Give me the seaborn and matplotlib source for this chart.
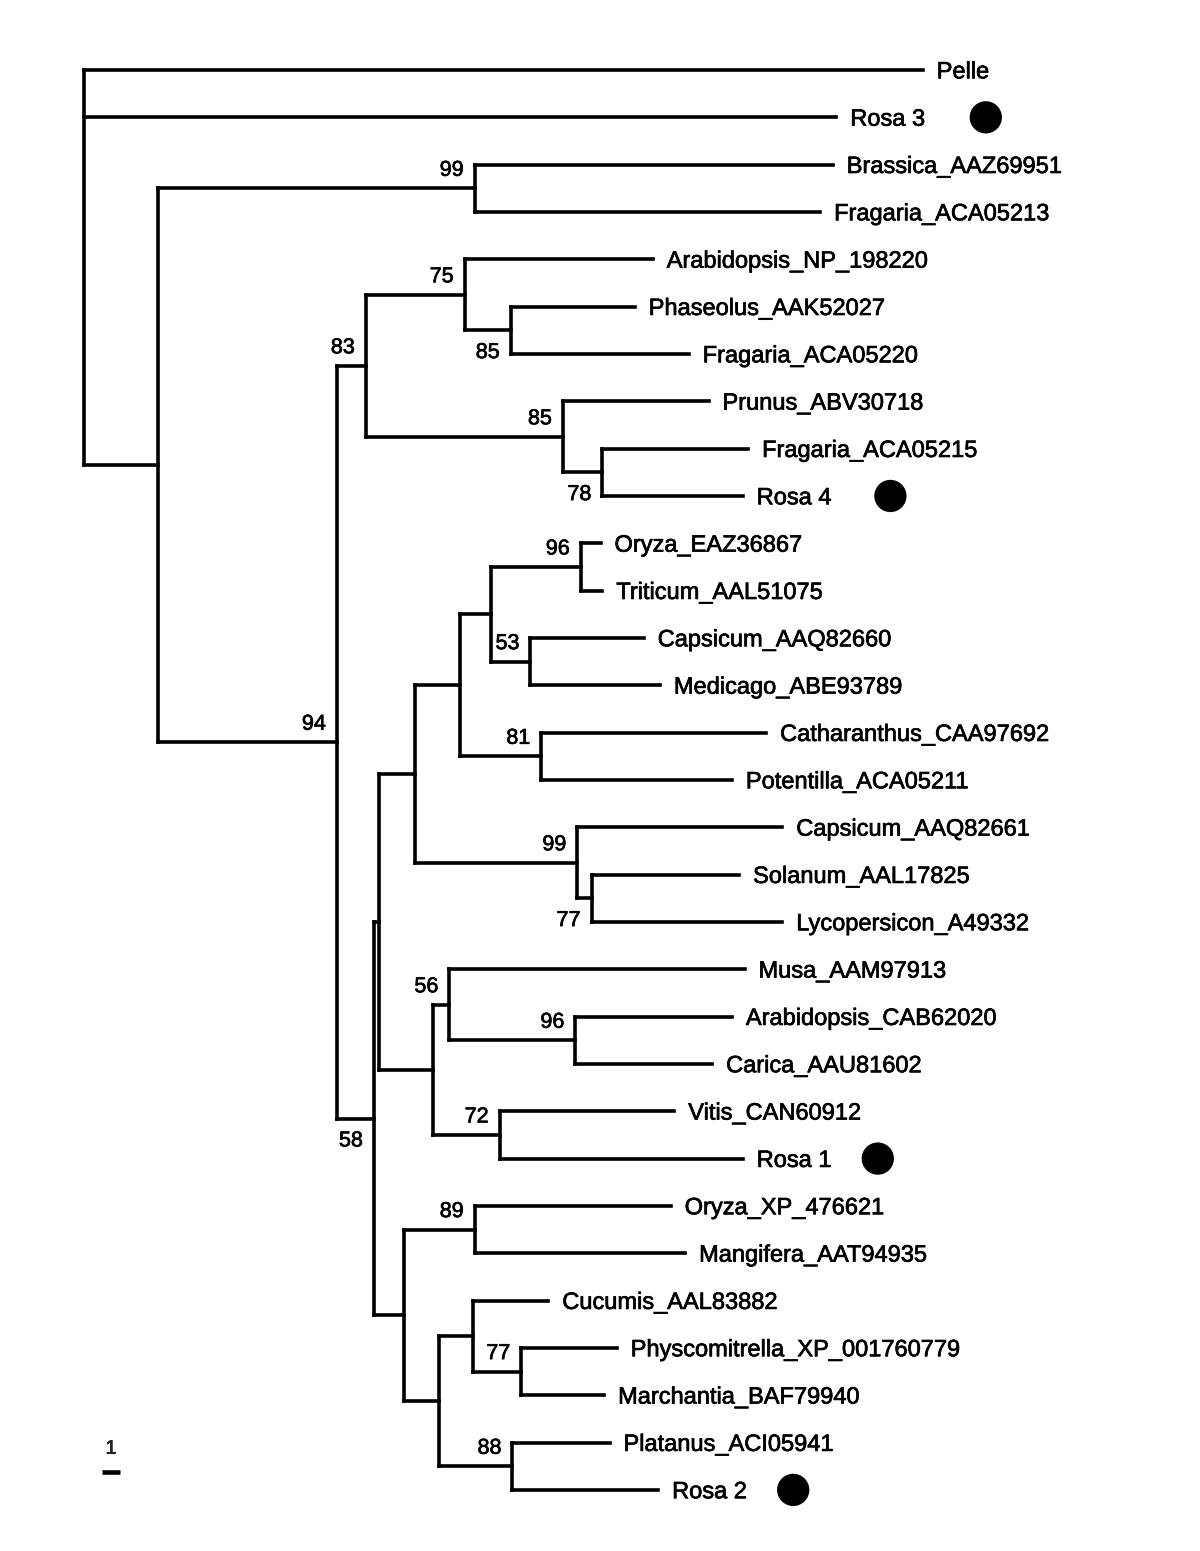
import numpy as np
import pandas as pd
import matplotlib
matplotlib.use("Agg")
import matplotlib.pyplot as plt
import matplotlib.patheffects as pe
import seaborn as sns

# Leaves, top to bottom, with their distance from the root (scale bar = 1 unit)
leaf_names = [
    "Pelle", "Rosa 3", "Brassica_AAZ69951", "Fragaria_ACA05213",
    "Arabidopsis_NP_198220", "Phaseolus_AAK52027", "Fragaria_ACA05220",
    "Prunus_ABV30718", "Fragaria_ACA05215", "Rosa 4",
    "Oryza_EAZ36867", "Triticum_AAL51075", "Capsicum_AAQ82660",
    "Medicago_ABE93789", "Catharanthus_CAA97692", "Potentilla_ACA05211",
    "Capsicum_AAQ82661", "Solanum_AAL17825", "Lycopersicon_A49332",
    "Musa_AAM97913", "Arabidopsis_CAB62020", "Carica_AAU81602",
    "Vitis_CAN60912", "Rosa 1", "Oryza_XP_476621", "Mangifera_AAT94935",
    "Cucumis_AAL83882", "Physcomitrella_XP_001760779", "Marchantia_BAF79940",
    "Platanus_ACI05941", "Rosa 2",
]
leaf_depth = [
    46.6, 41.8, 41.6, 40.9,
    31.6, 30.6, 33.6,
    34.7, 36.9, 36.6,
    28.7, 28.8, 31.1,
    32.0, 37.9, 36.0,
    38.8, 36.4, 38.8,
    36.7, 36.0, 34.9,
    32.8, 36.6, 32.6, 33.4,
    25.8, 29.6, 28.9,
    29.2, 31.9,
]

# Internal nodes: depth, children (first to last), bootstrap support
node_ids = ["root", "A", "B", "C", "D", "G", "I", "H", "J", "F", "K", "M", "O",
            "Q", "S", "T", "R", "P", "U", "N", "V", "X", "W", "L", "Y", "Z",
            "AA", "AC", "AB"]
node_depth = [0.0, 4.1, 21.7, 14.05, 15.65, 21.15, 23.7, 26.6, 28.8, 16.1,
              16.4, 18.4, 20.9, 22.6, 27.6, 24.8, 25.4, 27.4, 28.2, 19.4,
              20.3, 27.3, 23.1, 17.8, 21.7, 19.7, 21.6, 24.3, 23.8]
node_children = [
    ["Pelle", "Rosa 3", "A"],
    ["B", "C"],
    ["Brassica_AAZ69951", "Fragaria_ACA05213"],
    ["D", "F"],
    ["G", "H"],
    ["Arabidopsis_NP_198220", "I"],
    ["Phaseolus_AAK52027", "Fragaria_ACA05220"],
    ["Prunus_ABV30718", "J"],
    ["Fragaria_ACA05215", "Rosa 4"],
    ["K", "L"],
    ["M", "N"],
    ["O", "P"],
    ["Q", "R"],
    ["S", "T"],
    ["Oryza_EAZ36867", "Triticum_AAL51075"],
    ["Capsicum_AAQ82660", "Medicago_ABE93789"],
    ["Catharanthus_CAA97692", "Potentilla_ACA05211"],
    ["Capsicum_AAQ82661", "U"],
    ["Solanum_AAL17825", "Lycopersicon_A49332"],
    ["V", "W"],
    ["Musa_AAM97913", "X"],
    ["Arabidopsis_CAB62020", "Carica_AAU81602"],
    ["Vitis_CAN60912", "Rosa 1"],
    ["Y", "Z"],
    ["Oryza_XP_476621", "Mangifera_AAT94935"],
    ["AA", "AB"],
    ["Cucumis_AAL83882", "AC"],
    ["Physcomitrella_XP_001760779", "Marchantia_BAF79940"],
    ["Platanus_ACI05941", "Rosa 2"],
]
node_support = [None, None, 99, 94, 83, 75, 85, 85, 78, 58, None, None, None,
                None, 96, 53, 81, 99, 77, None, 56, 96, 72, None, 89, None,
                None, 77, 88]
support_below = ["I", "J", "F", "U"]

# Rosa sequences flagged with a black dot
marked_leaves = ["Rosa 3", "Rosa 4", "Rosa 1", "Rosa 2"]
marked_x = [50.1, 44.8, 44.1, 39.4]

scale_start, scale_len, scale_row = 1.0, 1.0, 29.62

# --- layout --------------------------------------------------------------
depth = dict(zip(leaf_names, leaf_depth))
depth.update(zip(node_ids, node_depth))
children = dict(zip(node_ids, node_children))
ypos = {name: i for i, name in enumerate(leaf_names)}


def place(n):
    if n in ypos:
        return ypos[n]
    ys = [place(c) for c in children[n]]
    ypos[n] = (ys[0] + ys[-1]) / 2
    return ypos[n]


place("root")

segs = []
sid = 0
for n in node_ids:
    kids = children[n]
    x0 = depth[n]
    segs += [(sid, x0, ypos[kids[0]]), (sid, x0, ypos[kids[-1]])]
    sid += 1
    for c in kids:
        segs += [(sid, x0, ypos[c]), (sid, depth[c], ypos[c])]
        sid += 1
seg_df = pd.DataFrame(segs, columns=["seg", "x", "y"])

# --- drawing -------------------------------------------------------------
sns.set_theme(style="white")
plt.rcParams["font.family"] = ["Liberation Sans", "DejaVu Sans"]

fig = plt.figure(figsize=(12, 15.51), dpi=100)
ax = fig.add_axes([0, 0, 1, 1])

sns.lineplot(data=seg_df, x="x", y="y", units="seg", estimator=None,
             sort=False, color="black", linewidth=2.6, legend=False, ax=ax,
             solid_capstyle="projecting")

# slight stroke so the text reads as heavy as the scanned original
heavy = [pe.withStroke(linewidth=0.5, foreground="black")]

for name in leaf_names:
    ax.annotate(name, (depth[name], ypos[name]), xytext=(10, -6),
                textcoords="offset points", ha="left", va="baseline",
                fontsize=17, color="black", path_effects=heavy)

for n, s in zip(node_ids, node_support):
    if s is None:
        continue
    dy = -20 if n in support_below else 9
    ax.annotate(str(s), (depth[n], ypos[n]), xytext=(-8, dy),
                textcoords="offset points", ha="right", va="baseline",
                fontsize=15.5, color="black", path_effects=heavy)

dots = pd.DataFrame({"x": marked_x, "y": [ypos[n] for n in marked_leaves]})
sns.scatterplot(data=dots, x="x", y="y", s=540, color="black",
                edgecolor="none", legend=False, ax=ax)

ax.plot([scale_start, scale_start + scale_len], [scale_row, scale_row],
        color="black", linewidth=3.3, solid_capstyle="butt")
ax.text(scale_start + scale_len / 2, scale_row - 0.3, "1", ha="center",
        va="bottom", fontsize=14, path_effects=heavy)

ax.set_xlim(-84 / 18, (1200 - 84) / 18)
ax.set_ylim(1481 / 47.33, -70 / 47.33)
ax.axis("off")

fig.savefig("out.png", dpi=100, facecolor="white")
